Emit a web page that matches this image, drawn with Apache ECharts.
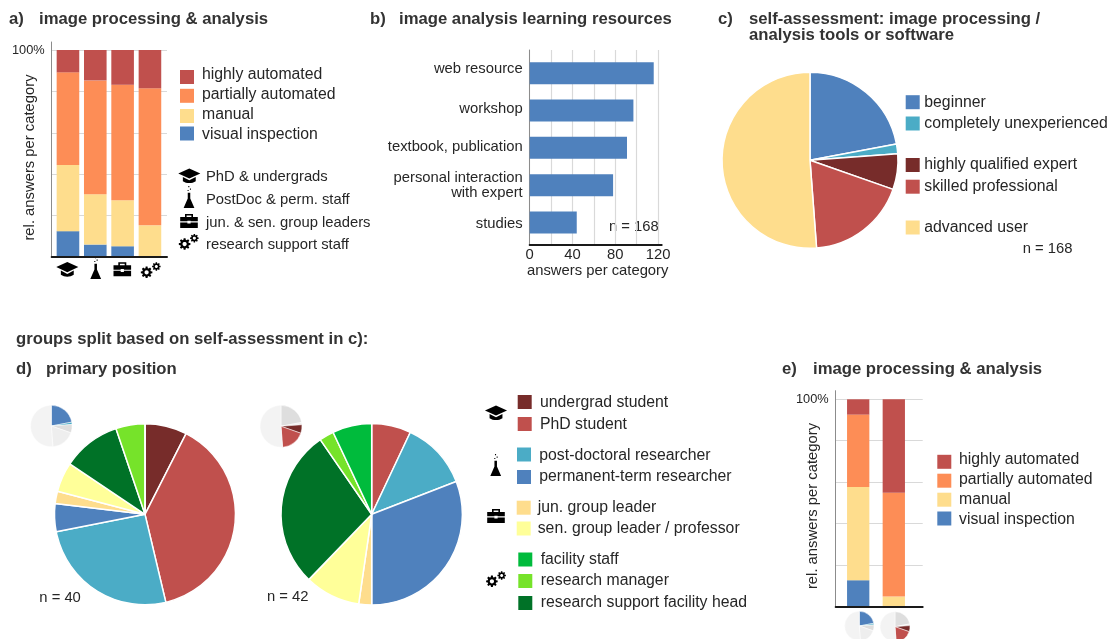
<!DOCTYPE html>
<html>
<head>
<meta charset="utf-8">
<title>image processing survey</title>
<script src="https://cdn.jsdelivr.net/npm/echarts@6/dist/echarts.min.js"></script>
<style>
    html, body { margin: 0; padding: 0; background: #fff; }
    #chart { width: 1112px; height: 639px; }
</style>
</head>
<body>
<div id="chart"></div>
<script>
// panel a
const aGroups = ['PhD & undergrads', 'PostDoc & perm. staff', 'jun. & sen. group leaders', 'research support staff']
const aVisual = [12.5, 6, 5.2, 0]
const aManual = [32, 24.3, 22.2, 15.3]
const aPartial = [44.7, 55, 55.8, 66.2]
const aHighly = [10.8, 14.7, 16.8, 18.5]
// panel b
const bCategories = ['web resource', 'workshop', 'textbook, publication', 'personal interaction\nwith expert', 'studies']
const bValues = [116, 97, 91, 78, 44]
// panel c
const cNames = ['beginner', 'completely unexperienced', 'highly qualified expert', 'skilled professional', 'advanced user']
const cValues = [37, 3, 11, 31, 86]
// panel d, percent of each pie
const dNames = ['undergrad student', 'PhD student', 'post-doctoral researcher', 'permanent-term researcher', 'jun. group leader', 'sen. group leader / professor', 'research support facility head', 'research manager', 'facility staff']
const dLow = [7.5, 38.8, 25.6, 5, 2.2, 5.3, 10.4, 5.2, 0]
const dHigh = [0, 7, 12.1, 30.9, 2.3, 9.9, 28.2, 2.6, 7]
// panel e
const eGroups = ['beginner & unexperienced', 'experts & professionals']
const eVisual = [12.6, 0]
const eManual = [45, 4.7]
const ePartial = [35, 50.2]
const eHighly = [7.4, 45.1]

const BLUE = '#4f81bd', TEAL = '#4bacc6', RED = '#c0504d', DARKRED = '#772c2a'
const ORANGE = '#fd8d56', SAND = '#fedd8d', LEMON = '#ffff99'
const FOREST = '#007227', LIME = '#76e32a', GREEN = '#00bb3c'
const cColors = [BLUE, TEAL, DARKRED, RED, SAND]
const dColors = [DARKRED, RED, TEAL, BLUE, SAND, LEMON, FOREST, LIME, GREEN]
const miniLow = [BLUE, TEAL, '#dedede', '#eeeeee', '#f3f3f3']
const miniHigh = ['#dedede', '#eeeeee', DARKRED, RED, '#f3f3f3']
const autoNames = ['highly automated', 'partially automated', 'manual', 'visual inspection']

const FONT = '"Liberation Sans", Arial, sans-serif'
const INK = '#262626'

// icon shapes
function gear(cx, cy, r) {
    const n = 8, pts = []
    for (let i = 0; i < n; i++) {
        const a = i / n * Math.PI * 2
        const w = Math.PI / n * 0.55
        pts.push([a - w * 1.25, r * 0.74], [a - w * 0.75, r], [a + w * 0.75, r], [a + w * 1.25, r * 0.74])
    }
    const xy = p => (cx + p[1] * Math.cos(p[0])).toFixed(2) + ' ' + (cy + p[1] * Math.sin(p[0])).toFixed(2)
    let d = 'M' + pts.map(xy).join(' L') + ' Z '
    const hole = []
    for (let i = 16; i > 0; i--) hole.push([i / 16 * Math.PI * 2, r * 0.36])
    return d + 'M' + hole.map(xy).join(' L') + ' Z'
}
const ICONS = {
    cap: { d: 'M12 3 L24 9 L12 15 L0 9 Z M5 13 L12 17 L19 13 V18 C15 21 9 21 5 18 Z', cx: 12, cy: 11.6, sx: 0.92, sy: 0.85 },
    flask: { d: 'M10.6 8 H13.4 V14 L18 24 H6 L10.6 14 Z M11.2 1 h1.2 v1.2 h-1.2 Z M13 3.6 h1.2 v1.2 h-1.2 Z M10.4 5 h1.2 v1.2 h-1.2 Z', cx: 12, cy: 12.5, sx: 0.9, sy: 0.95 },
    briefcase: { d: 'M7 7 V3 H17 V7 H15 V5 H9 V7 Z M1 7 H23 V13 H14 V12 H10 V13 H1 Z M1 14.5 H10 V16 H14 V14.5 H23 V22 H1 Z', cx: 12, cy: 12.5, sx: 0.8, sy: 0.74 },
    gears: { d: gear(7.5, 13.5, 7.5) + ' ' + gear(20, 6, 5.5), cx: 12.75, cy: 10.5, sx: 0.78, sy: 0.78 }
}
Object.keys(ICONS).forEach(k => echarts.graphic.registerShape(k, echarts.graphic.extendPath(ICONS[k].d)))

function icon(name, x, y) {
    const c = ICONS[name]
    return { type: name, silent: true, shape: {}, x: x - c.cx * c.sx, y: y - c.cy * c.sy, scaleX: c.sx, scaleY: c.sy, style: { fill: '#000' } }
}
function note(text, x, y, rotate, size) {
    return {
        type: 'text', x, y, rotation: rotate ? Math.PI / 2 : 0, silent: true,
        style: { text, fill: INK, font: (size || 14.8) + 'px ' + FONT, align: rotate ? 'center' : 'left', verticalAlign: 'middle' }
    }
}
function head(text, x, y) {
    return { text, left: x, top: y - 7.5, padding: 0, textStyle: { fontFamily: FONT, fontSize: 16.7, fontWeight: 'bold', color: '#333', lineHeight: 17 } }
}
// swatch and text of the original do not sit on one centre line, so each row
// gets its own swatch-only legend and the name goes in as text next to it
const legends = [], legendTexts = []
function legendRow(x, name, swatchY, textY, textX) {
    legends.push({
        left: x, top: swatchY - 7, padding: 0, icon: 'rect', selectedMode: false,
        itemWidth: 14, itemHeight: 14, data: [name], itemStyle: { borderWidth: 0 },
        formatter: () => ''
    })
    legendTexts.push(note(name, textX, textY + 1, false, 15.8))
}
function pie(names, values, colors, cx, cy, r, border) {
    return {
        type: 'pie', silent: true, startAngle: 90, clockwise: true, radius: r, center: [cx, cy],
        label: { show: false }, labelLine: { show: false }, emphasis: { disabled: true },
        itemStyle: { borderColor: '#fff', borderWidth: border },
        data: names.map((name, i) => ({ name, value: values[i], itemStyle: { color: colors[i] } }))
    }
}

const grid = [], xAxis = [], yAxis = [], series = []

// one grid carries the axis lines and gridlines, a second one the bars
function addStacked(back, front, cats, barW, rows) {
    const b = grid.length
    grid.push(back, front)
    const top = 100 * back.height / front.height
    xAxis.push({ gridIndex: b, type: 'value', min: 0, max: 1, z: 5, axisLine: { lineStyle: { color: '#1a1a1a', width: 2 }, onZero: false }, axisTick: { show: false }, axisLabel: { show: false }, splitLine: { show: false } })
    yAxis.push({
        gridIndex: b, type: 'value', min: 0, max: top, interval: 20,
        axisLine: { show: true, lineStyle: { color: '#8c8c8c' } }, axisTick: { show: false },
        axisLabel: { fontFamily: FONT, fontSize: 12.8, color: INK, margin: 7, formatter: v => v === 100 ? '100%' : '' },
        splitLine: { show: true, showMaxLine: false, lineStyle: { color: '#d9d9d9', width: 1.2 } }
    })
    xAxis.push({ gridIndex: b + 1, type: 'category', data: cats, show: false })
    yAxis.push({ gridIndex: b + 1, type: 'value', min: 0, max: 100, show: false })
    rows.forEach(r => series.push({
        type: 'bar', name: r.name, stack: 's' + b, xAxisIndex: b + 1, yAxisIndex: b + 1, barWidth: barW,
        silent: true, itemStyle: { color: r.color }, data: r.values
    }))
}

addStacked(
    { left: 51.7, top: 42, width: 115.3, height: 215 },
    { left: 54.3, top: 50, width: 109.3, height: 207 },
    aGroups, 22.6,
    [
        { name: 'visual inspection', color: BLUE, values: aVisual },
        { name: 'manual', color: SAND, values: aManual },
        { name: 'partially automated', color: ORANGE, values: aPartial },
        { name: 'highly automated', color: RED, values: aHighly }
    ]
)
addStacked(
    { left: 835.7, top: 390.7, width: 87, height: 215.6 },
    { left: 840.4, top: 399.3, width: 71.2, height: 207 },
    eGroups, 22.3,
    [
        { name: 'visual inspection', color: BLUE, values: eVisual },
        { name: 'manual', color: SAND, values: eManual },
        { name: 'partially automated', color: ORANGE, values: ePartial },
        { name: 'highly automated', color: RED, values: eHighly }
    ]
)

// panel b, labels sit a bit off the bar centres in the original
const bPad = [[0, 0, 8, 0], [0, 0, 4, 0], [0, 0, 2, 0], [0, 0, 0, 0], [3, 0, 0, 0]]
const bRich = {}
bPad.forEach((padding, i) => { bRich['l' + i] = { padding, fontFamily: FONT, fontSize: 14.8, color: INK, lineHeight: 15 } })
const bBack = grid.length
grid.push({ left: 529.7, top: 50, width: 132, height: 195 }, { left: 529.7, top: 54.5, width: 128.3, height: 186.7 })
xAxis.push({
    gridIndex: bBack, type: 'value', min: 0, max: 123.4, interval: 20,
    name: 'answers per category', nameLocation: 'middle', nameGap: 18,
    nameTextStyle: { fontFamily: FONT, fontSize: 14.8, color: INK, padding: [0, 0, 0, 4] },
    axisLine: { lineStyle: { color: '#1a1a1a', width: 2 } }, axisTick: { show: false },
    axisLabel: { fontFamily: FONT, fontSize: 14.8, color: INK, margin: 2, formatter: v => v % 40 === 0 ? String(v) : '' },
    splitLine: { show: true, showMaxLine: false, lineStyle: { color: '#d9d9d9', width: 1.2 } }
})
yAxis.push({ gridIndex: bBack, type: 'value', min: 0, max: 1, axisLine: { show: true, lineStyle: { color: '#8c8c8c' } }, axisTick: { show: false }, axisLabel: { show: false }, splitLine: { show: false } })
xAxis.push({ gridIndex: bBack + 1, type: 'value', min: 0, max: 120, show: false })
yAxis.push({
    gridIndex: bBack + 1, type: 'category', inverse: true, data: bCategories,
    axisLine: { show: false }, axisTick: { show: false },
    axisLabel: {
        margin: 7, rich: bRich,
        formatter: (v, i) => v.split('\n').map(t => '{l' + i + '|' + t + '}').join('\n')
    }
})
series.push({ type: 'bar', silent: true, xAxisIndex: bBack + 1, yAxisIndex: bBack + 1, barWidth: 22, itemStyle: { color: BLUE }, data: bValues })

// pies, panel c has to come first so the legends pick its colours
series.push(pie(cNames, cValues, cColors, 810, 160.3, 88, 1.5))
series.push(pie(dNames, dLow, dColors, 145, 514.3, 90.5, 1.5))
series.push(pie(dNames, dHigh, dColors, 371.7, 514.3, 90.7, 1.5))
series.push(pie(cNames, cValues, miniLow, 51.3, 426, 20.8, 0.5))
series.push(pie(cNames, cValues, miniHigh, 281, 426.3, 21, 0.5))
series.push(pie(cNames, cValues, miniLow, 859.3, 626, 14.7, 0.5))
series.push(pie(cNames, cValues, miniHigh, 895, 626.7, 15, 0.5))

legendRow(180, autoNames[0], 77, 74, 202)
legendRow(180, autoNames[1], 95.8, 94, 202)
legendRow(180, autoNames[2], 116, 114, 202)
legendRow(180, autoNames[3], 133.5, 134, 202)
legendRow(905.7, cNames[0], 102.2, 101.7, 924.3)
legendRow(905.7, cNames[1], 123.5, 122.3, 924.3)
legendRow(905.7, cNames[2], 165, 163.7, 924.3)
legendRow(905.7, cNames[3], 186.7, 186, 924.3)
legendRow(905.7, cNames[4], 227.5, 226.7, 924.3)
legendRow(517.7, dNames[0], 402, 402, 540)
legendRow(517.7, dNames[1], 424, 424, 540)
legendRow(517, dNames[2], 454.5, 454.3, 539.3)
legendRow(517, dNames[3], 477, 476, 539.3)
legendRow(516.7, dNames[4], 507.7, 506.3, 537.7)
legendRow(516.7, dNames[5], 528.5, 527.7, 537.7)
legendRow(518.3, dNames[8], 559.5, 558.3, 540.7)
legendRow(518.3, dNames[7], 581, 580, 540.7)
legendRow(518.3, dNames[6], 603, 601.7, 540.7)
legendRow(937.3, autoNames[0], 461.8, 458.7, 959)
legendRow(937.3, autoNames[1], 480.7, 478.3, 959)
legendRow(937.3, autoNames[2], 499.7, 498.7, 959)
legendRow(937.3, autoNames[3], 518.5, 519, 959)

const option = {
    animation: false,
    backgroundColor: '#fff',
    title: [
        head('a)', 9, 18), head('image processing & analysis', 39, 18),
        head('b)', 370, 18), head('image analysis learning resources', 399, 18),
        head('c)', 718, 18), head('self-assessment: image processing /', 749, 18), head('analysis tools or software', 749, 34),
        head('groups split based on self-assessment in c):', 16, 338),
        head('d)', 16, 368), head('primary position', 46, 368),
        head('e)', 782, 368), head('image processing & analysis', 813, 368)
    ],
    legend: legends,
    grid, xAxis, yAxis, series,
    graphic: [
        note('rel. answers per category', 30, 157.5, true),
        note('rel. answers per category', 813.3, 506, true),
        note(aGroups[0], 206, 177), note(aGroups[1], 206, 200), note(aGroups[2], 206, 222.5), note(aGroups[3], 206, 245),
        note('n = 168', 609, 227), note('n = 168', 1022.7, 249),
        note('n = 40', 39.3, 597.7), note('n = 42', 267, 596.5),
        icon('cap', 67.3, 269.3), icon('flask', 95.7, 268), icon('briefcase', 122.3, 269.3), icon('gears', 150.7, 270),
        icon('cap', 189.3, 175.7), icon('flask', 189, 197), icon('briefcase', 189, 221), icon('gears', 188.7, 241.7),
        icon('cap', 496, 412.7), icon('flask', 495.7, 465), icon('briefcase', 496, 516), icon('gears', 496, 579)
    ].concat(legendTexts)
}

echarts.init(document.getElementById('chart')).setOption(option)
</script>
</body>
</html>
